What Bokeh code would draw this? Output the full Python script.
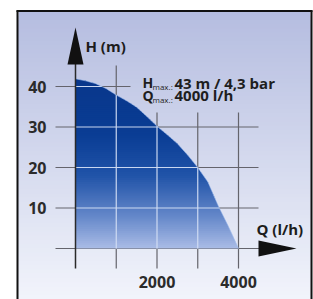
import numpy as np
from bokeh.plotting import figure
from bokeh.models import Range1d
from bokeh.core.properties import value
from bokeh.embed import file_html
from bokeh.resources import INLINE

# ---- data ----
Q_FLOW = [0, 250, 500, 750, 1000, 1250, 1500, 1750, 2000, 2250, 2500, 2750, 3000, 3250, 3500, 3750, 4000]
H_HEAD = [41.9, 41.4, 40.7, 39.5, 37.9, 36.5, 34.9, 32.6, 30.2, 28.1, 25.9, 23.1, 20.0, 16.4, 10.6, 5.5, 0.0]
H_TICKS = [40, 30, 20, 10]
H_TICK_LABELS = ["40", "30", "20", "10"]
Q_GRID = [1000, 2000, 3000, 4000]
Q_TICKS = [2000, 4000]
Q_TICK_LABELS = ["2000", "4000"]
H_MAX_TEXT = "43 m / 4,3 bar"
Q_MAX_TEXT = "4000 l/h"

# ---- layout ----
W, HT = 313, 299
OX, OY = 75, 248            # pixel of the origin (Q=0, H=0)
SX, SY = 163 / 4000, 162 / 40

def qx(px):  # pixel -> data x
    return (px - OX) / SX

def hy(py):  # pixel -> data y
    return (OY - py) / SY

x_range = Range1d(qx(0), qx(W))
y_range = Range1d(hy(HT), hy(0))

p = figure(width=W, height=HT, x_range=x_range, y_range=y_range,
           x_axis_type=None, y_axis_type=None, toolbar_location=None,
           output_backend="svg", min_border=0, outline_line_color=None,
           background_fill_color="white", border_fill_color="white")

def mix(c1, c2, f):
    return "#%02x%02x%02x" % tuple(int(round(a + (b - a) * f)) for a, b in zip(c1, c2))

# background gradient
top_b, bot_b = hy(11), y_range.start - 2
tops = np.linspace(top_b, bot_b, 70, endpoint=False)
cols = [mix((181, 189, 224), (244, 246, 252), (top_b - t) / (top_b - bot_b)) for t in tops]
p.quad(left=qx(18), right=qx(310), bottom=bot_b, top=tops, color=cols, line_color=None)

# frame
p.line([qx(17), qx(17)], [hy(10), bot_b], color="#111111", line_width=2)
p.line([qx(311), qx(311)], [hy(10), bot_b], color="#111111", line_width=2)
p.line([qx(16), qx(312)], [hy(10.5), hy(10.5)], color="#111111", line_width=2)

# grey grid (under the area)
GRID = "#64646c"
p.segment(x0=Q_GRID, x1=Q_GRID, y0=hy(268),
          y1=[hy(65), hy(112), hy(112), hy(112)], color=GRID, line_width=1.2)
hx1 = [qx(130) if h == 40 else qx(258) for h in H_TICKS]
p.segment(x0=qx(55), x1=hx1, y0=H_TICKS, y1=H_TICKS, color=GRID, line_width=1.2)
p.segment(x0=[qx(55)], x1=[qx(262)], y0=[0], y1=[0], color=GRID, line_width=1.2)

# gradient area: thin slabs of the region under the curve
Q = np.array(Q_FLOW, float)
H = np.array(H_HEAD, float)
stops_h = [0, 8, 18, 28, 43]
stops_c = [(170, 188, 230), (100, 135, 201), (32, 83, 168), (10, 61, 148), (8, 54, 138)]
def area_col(h):
    for i in range(len(stops_h) - 1):
        if h <= stops_h[i + 1]:
            f = (h - stops_h[i]) / (stops_h[i + 1] - stops_h[i])
            return mix(stops_c[i], stops_c[i + 1], f)
    return mix(stops_c[-1], stops_c[-1], 0)

def crossings(lv):
    out = []
    for i in range(len(Q) - 1):
        if (H[i] - lv) * (H[i + 1] - lv) < 0:
            t = (lv - H[i]) / (H[i + 1] - H[i])
            out.append(Q[i] + t * (Q[i + 1] - Q[i]))
    return out

def slab(a, b):
    qm = np.array(sorted(set(list(Q) + crossings(a) + crossings(b))))
    hm = np.interp(qm, Q, H)
    top = np.minimum(hm, b)
    bot = np.maximum(np.minimum(hm, a), 0.0)
    return list(qm) + list(qm[::-1]), list(top) + list(bot[::-1])

STEP = 0.5
levels = np.arange(H.max(), 0, -STEP)
xs, ys, cs = [], [], []
for lv in levels:
    sx_, sy_ = slab(max(lv - STEP - 0.2, 0.0), lv)
    xs.append(sx_); ys.append(sy_); cs.append(area_col(lv - STEP / 2))
p.patches(xs, ys, color=cs, line_color=None)

# light grid inside the area
LIGHT = "#d3def4"
hq = [float(np.interp(h, H[::-1], Q[::-1])) for h in H_TICKS]
p.segment(x0=0, x1=hq, y0=H_TICKS, y1=H_TICKS, color=LIGHT, line_width=1.2, alpha=0.95)
vq = [q for q in Q_GRID if q < Q.max()]
p.segment(x0=vq, x1=vq, y0=0, y1=[float(np.interp(q, Q, H)) for q in vq],
          color=LIGHT, line_width=1.2, alpha=0.95)
p.line(Q, H, color="#a3bfee", line_width=1, alpha=0.6)

# axes lines and arrows
p.segment(x0=[0], x1=[0], y0=[hy(268)], y1=[hy(60)], color="#2a2a2a", line_width=1.5)
p.patch([0, qx(67), qx(83)], [hy(27), hy(64), hy(64)], color="#111111", line_color=None)
p.patch([qx(296), qx(258), qx(258)], [0, hy(240), hy(256)], color="#111111", line_color=None)

FONT = value("Open Sans")
# tick labels
p.text(x=qx(46), y=H_TICKS, text=H_TICK_LABELS, text_font=FONT, text_font_style="bold",
       text_font_size="16px", text_color="#2b2b2b", text_align="right", text_baseline="middle")
p.text(x=Q_TICKS, y=hy(281), text=Q_TICK_LABELS, text_font=FONT, text_font_style="bold",
       text_font_size="16px", text_color="#2b2b2b", text_align="center", text_baseline="middle")
# axis titles
p.text(x=[qx(85)], y=[hy(45.5)], text=["H (m)"], text_font=FONT, text_font_style="bold",
       text_font_size="15px", text_color="#1c1c1c", text_align="left", text_baseline="middle")
p.text(x=[qx(256)], y=[hy(228)], text=["Q (l/h)"], text_font=FONT, text_font_style="bold",
       text_font_size="15px", text_color="#1c1c1c", text_align="left", text_baseline="middle")
# max info
p.text(x=[qx(142), qx(142)], y=[hy(82), hy(94.5)], text=["H", "Q"], text_font=FONT,
       text_font_style="bold", text_font_size="14px", text_color="#1e1e1e",
       text_align="left", text_baseline="middle")
p.text(x=[qx(152), qx(152)], y=[hy(86), hy(98.5)], text=["max.:", "max.:"], text_font=FONT,
       text_font_size="8px", text_color="#1e1e1e", text_align="left", text_baseline="alphabetic")
p.text(x=[qx(174), qx(174)], y=[hy(82), hy(94.5)], text=[H_MAX_TEXT, Q_MAX_TEXT], text_font=FONT,
       text_font_style="bold", text_font_size="15px", text_color="#1e1e1e",
       text_align="left", text_baseline="middle")

open("out.html", "w").write(file_html(p, INLINE))
